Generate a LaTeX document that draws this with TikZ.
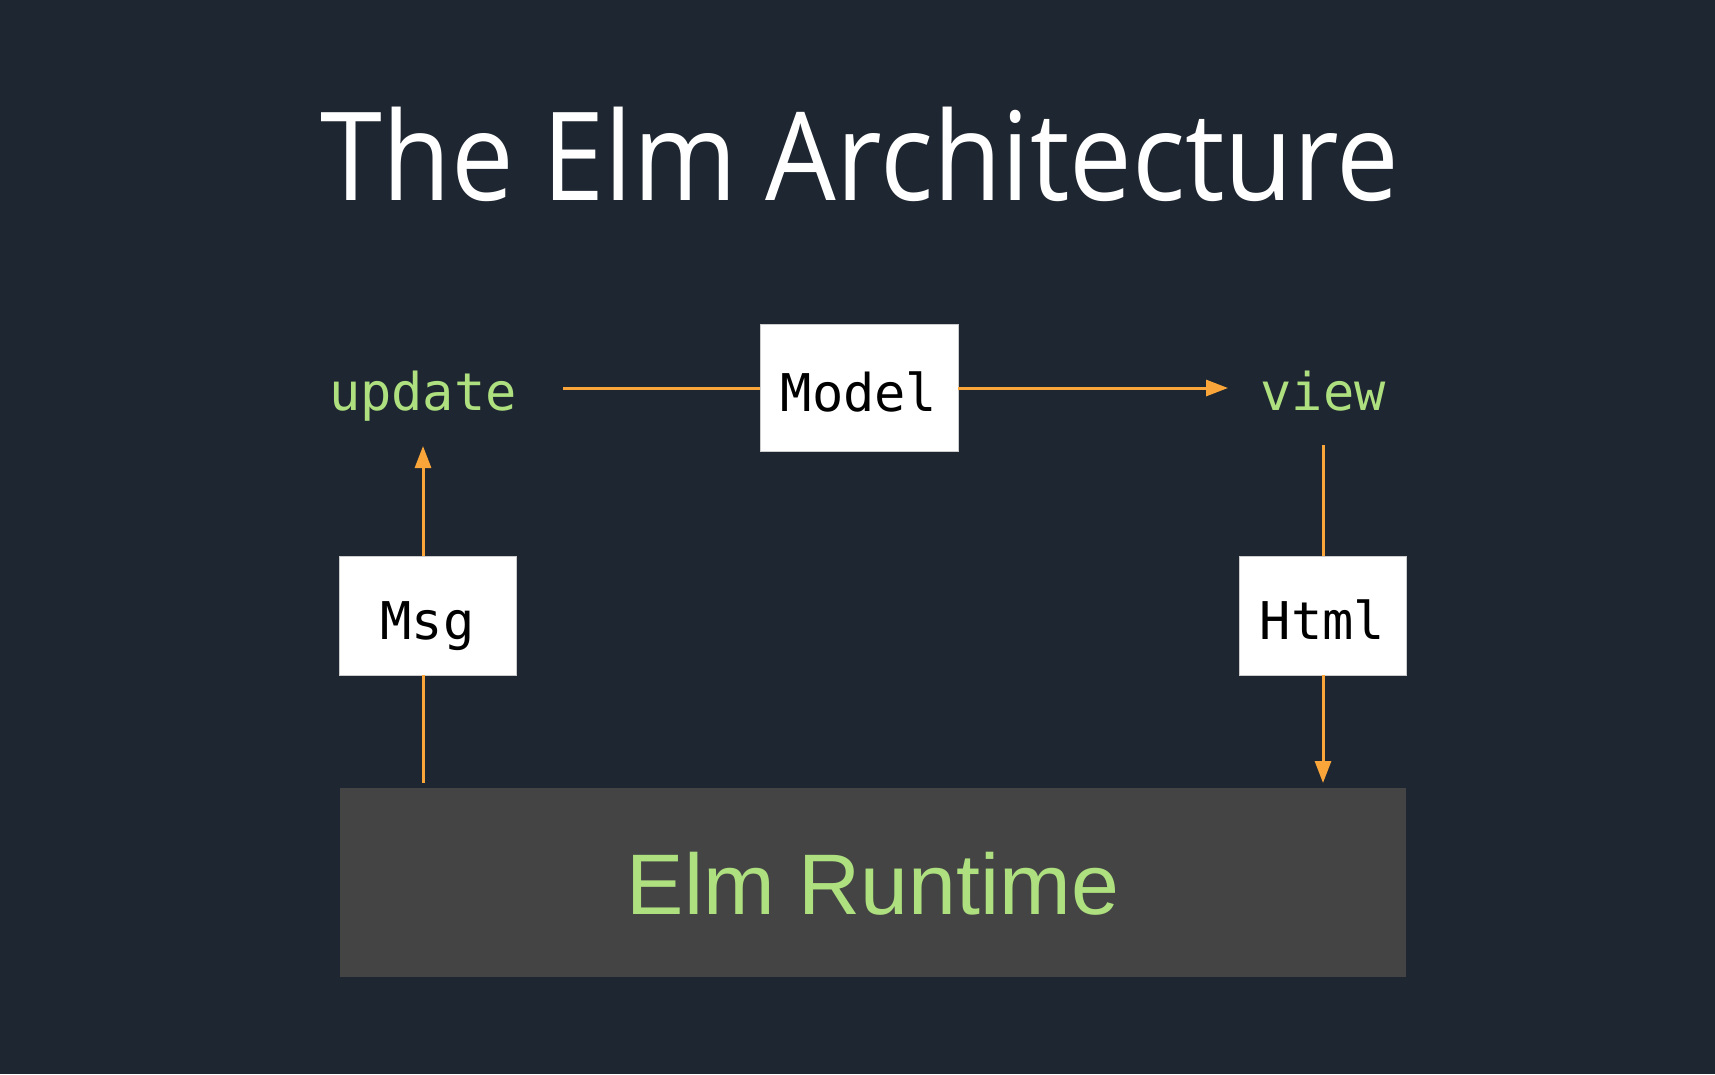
\documentclass[tikz,border=0pt]{standalone}
\usepackage{fontspec}
\usetikzlibrary{arrows.meta}
\newfontfamily\titlefont{Open Sans}
\newfontfamily\codefont{DejaVu Sans Mono}
\newfontfamily\rtfont{Liberation Sans}
\definecolor{bgc}{HTML}{1E2631}
\definecolor{orng}{HTML}{F9A53A}
\definecolor{grn}{HTML}{AEE07F}
\definecolor{rtgray}{HTML}{444444}
\tikzset{
  flow/.style={draw=orng, line width=3pt},
  tip/.style={-{Triangle[length=22pt,width=16pt]}},
  wbox/.style={fill=white, draw=gray!40, line width=0.8pt, inner sep=0pt,
    text height=47pt, text depth=0pt, font=\codefont\fontsize{52}{60}\selectfont, text=black},
  fname/.style={text=grn, inner sep=0pt, anchor=base, font=\codefont\fontsize{52}{60}\selectfont},
}
\begin{document}
\begin{tikzpicture}[x=1pt,y=-1pt]
\useasboundingbox[fill=bgc] (0,0) rectangle (1715,1074);
% title
\node[text=white, anchor=base, inner sep=0pt, xscale=0.908, transform shape, font=\titlefont\fontsize{123}{140}\selectfont] (title) at (860,200) {The Elm Architecture};
% function names
\node[fname] (update) at (423,410) {update};
\node[fname] (view) at (1323,410) {view};
% boxes
\node[wbox, minimum width=198pt, minimum height=127pt] (model) at (859,387.5) {Model};
\node[wbox, minimum width=177pt, minimum height=119pt] (msg) at (427.5,615.5) {Msg};
\node[wbox, minimum width=167pt, minimum height=119pt] (html) at (1322.5,615.5) {Html};
% runtime
\node[fill=rtgray, minimum width=1066pt, minimum height=189pt, inner sep=0pt] (rt) at (872.5,882.5) {};
\node[text=grn, inner sep=0pt, font=\rtfont\fontsize{86}{100}\selectfont] (rtlabel) at (873,884) {Elm Runtime};
% connector end points
\coordinate (updR) at (563,388);
\coordinate (viewL) at (1228,388);
\coordinate (viewB) at (1323,445);
\coordinate (rtHtml) at (1323,783);
\coordinate (rtMsg) at (423,783);
\coordinate (updB) at (423,446);
% connectors
\draw[flow] (updR) -- (model.west |- updR);
\draw[flow, tip] (model.east |- updR) -- (viewL);
\draw[flow] (viewB) -- (html.north -| viewB);
\draw[flow, tip] (html.south -| viewB) -- (rtHtml);
\draw[flow] (rtMsg) -- (msg.south -| rtMsg);
\draw[flow, tip] (msg.north -| rtMsg) -- (updB);
\end{tikzpicture}
\end{document}
